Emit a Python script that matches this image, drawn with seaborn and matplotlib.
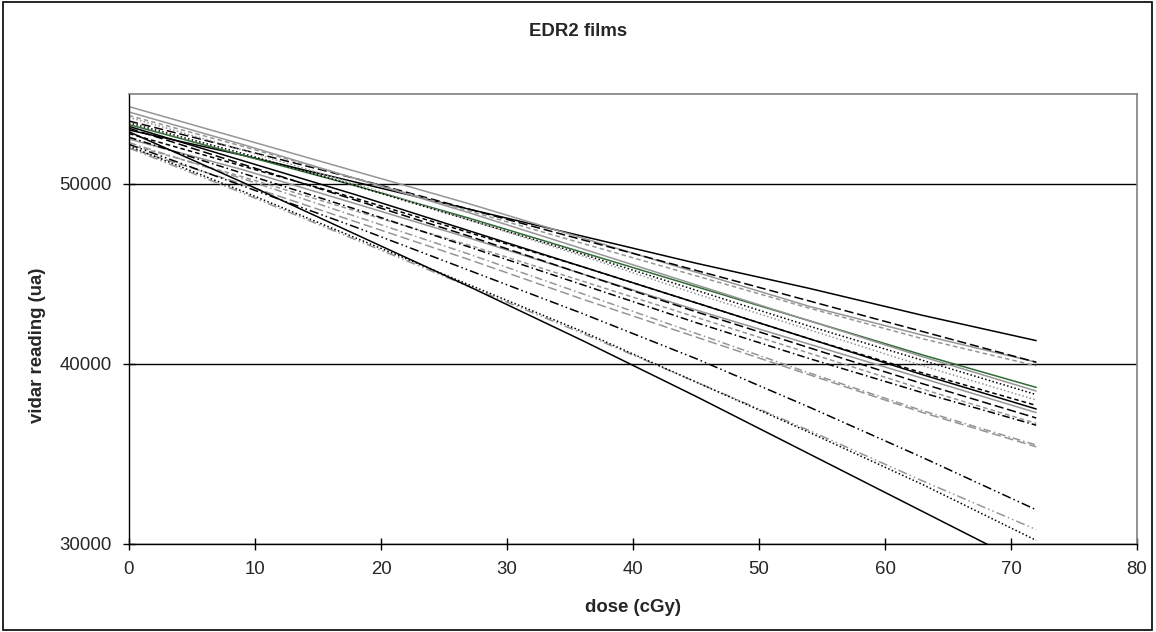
import matplotlib
matplotlib.use("Agg")
import pandas as pd
from matplotlib import pyplot as plt
from matplotlib.patches import Rectangle
import seaborn as sns

# dose points (cGy) at which the curves were read
dose = [0, 9, 18, 27, 36, 45, 54, 63, 72]

# vidar readings per film
film_01 = [53000, 51600, 50100, 48600, 47100, 45600, 44200, 42700, 41300]
film_02 = [54300, 52500, 50700, 48900, 47000, 45100, 43200, 41600, 40100]
film_03 = [53500, 51900, 50300, 48600, 46900, 45200, 43500, 41800, 40100]
film_04 = [53800, 52100, 50300, 48500, 46700, 44900, 43100, 41400, 39900]
film_05 = [53300, 51600, 49900, 48100, 46200, 44300, 42400, 40500, 38700]
film_06 = [54000, 52200, 50300, 48400, 46400, 44400, 42400, 40400, 38500]
film_07 = [53400, 51700, 49900, 48000, 46100, 44100, 42100, 40200, 38300]
film_08 = [53700, 51900, 50000, 48000, 46000, 43900, 41900, 39900, 38000]
film_09 = [52800, 51000, 49200, 47300, 45400, 43400, 41400, 39500, 37700]
film_10 = [53200, 51300, 49400, 47400, 45400, 43400, 41400, 39400, 37500]
film_11 = [52500, 50800, 48900, 47000, 45000, 43000, 41100, 39200, 37300]
film_12 = [53100, 51100, 49100, 47100, 45000, 42900, 40900, 38900, 37000]
film_13 = [52200, 50400, 48500, 46600, 44600, 42600, 40600, 38600, 36700]
film_14 = [52600, 50600, 48600, 46500, 44400, 42300, 40300, 38400, 36600]
film_15 = [52300, 50300, 48200, 46100, 43900, 41700, 39500, 37400, 35500]
film_16 = [52000, 50000, 47900, 45800, 43600, 41500, 39400, 37300, 35400]
film_17 = [52200, 49900, 47600, 45200, 42800, 40300, 37600, 34800, 31900]
film_18 = [52000, 49500, 46900, 44300, 41700, 39000, 36300, 33500, 30800]
film_19 = [52100, 49600, 47000, 44400, 41800, 39000, 36200, 33300, 30200]
film_20 = [52900, 50100, 47200, 44300, 41300, 38200, 35000, 31800, 28600]

films = {
    "film 1": film_01, "film 2": film_02, "film 3": film_03, "film 4": film_04,
    "film 5": film_05, "film 6": film_06, "film 7": film_07, "film 8": film_08,
    "film 9": film_09, "film 10": film_10, "film 11": film_11, "film 12": film_12,
    "film 13": film_13, "film 14": film_14, "film 15": film_15, "film 16": film_16,
    "film 17": film_17, "film 18": film_18, "film 19": film_19, "film 20": film_20,
}

BLACK = "#000000"
GRAY = "#969696"
GREEN = "#2f6b35"

SOLID = ""
DOT = (1, 1.5)
DASH = (3, 2)
LONG_DASH = (6, 2.5)
DASH_DOT = (5, 2, 1, 2)
DASH_DOT_DOT = (6, 2, 1, 2, 1, 2)

line_styles = {
    "film 1": (BLACK, SOLID), "film 2": (GRAY, SOLID), "film 3": (BLACK, LONG_DASH),
    "film 4": (GRAY, DASH), "film 5": (GREEN, SOLID), "film 6": (GRAY, SOLID),
    "film 7": (BLACK, DOT), "film 8": (GRAY, DOT), "film 9": (BLACK, DASH),
    "film 10": (BLACK, SOLID), "film 11": (GRAY, SOLID), "film 12": (BLACK, LONG_DASH),
    "film 13": (GRAY, DASH), "film 14": (BLACK, DASH_DOT), "film 15": (GRAY, DASH_DOT),
    "film 16": (GRAY, LONG_DASH), "film 17": (BLACK, DASH_DOT_DOT),
    "film 18": (GRAY, DASH_DOT_DOT), "film 19": (BLACK, DOT), "film 20": (BLACK, SOLID),
}


def build_frame():
    rows = []
    for name, values in films.items():
        for d, v in zip(dose, values):
            rows.append({"film": name, "dose": d, "reading": v})
    return pd.DataFrame(rows)


def plot_edr2(df):
    sns.set_style("white")
    plt.rcParams["font.family"] = ["Liberation Sans", "DejaVu Sans"]

    W, H = 1156, 632
    fig = plt.figure(figsize=(W / 100, H / 100), dpi=100)
    left, right, top, bottom = 129, 1137, 94, 544
    ax = fig.add_axes([left / W, 1 - bottom / H, (right - left) / W, (bottom - top) / H])

    palette = {k: c for k, (c, _) in line_styles.items()}
    dashes = {k: d for k, (_, d) in line_styles.items()}
    sns.lineplot(data=df, x="dose", y="reading", hue="film", style="film",
                 palette=palette, dashes=dashes, linewidth=1.1, legend=False, ax=ax)

    ax.set_xlim(0, 80)
    ax.set_ylim(30000, 55000)
    ax.set_xticks(range(0, 81, 10))
    ax.set_yticks([30000, 40000, 50000])
    ax.set_xlabel("")
    ax.set_ylabel("")

    ax.yaxis.grid(True, color="black", linewidth=1.0)
    ax.xaxis.grid(False)
    ax.set_axisbelow(True)
    for side in ["top", "right"]:
        ax.spines[side].set_visible(True)
        ax.spines[side].set_color("#808080")
        ax.spines[side].set_linewidth(1.2)
    for side in ["left", "bottom"]:
        ax.spines[side].set_color("black")
        ax.spines[side].set_linewidth(1.0)
    ax.tick_params(axis="both", direction="inout", length=9, width=1.0, color="black",
                   labelsize=13.4, left=True, bottom=True)
    ax.tick_params(axis="y", pad=8)
    ax.tick_params(axis="x", pad=8)

    fig.text(0.5, 1 - 32 / H, "EDR2 films", ha="center", va="center",
             fontsize=13.4, fontweight="bold")
    fig.text(38 / W, 1 - 345 / H, "vidar reading (ua)", ha="center", va="center",
             rotation=90, fontsize=13.4, fontweight="bold")
    fig.text((left + right) / 2 / W, 1 - 608 / H, "dose (cGy)", ha="center", va="center",
             fontsize=13.4, fontweight="bold")

    fig.patches.append(Rectangle((3 / W, 2 / H), 1 - 7 / W, 1 - 4 / H,
                                 transform=fig.transFigure, fill=False,
                                 edgecolor="black", linewidth=1.2))

    fig.savefig("out.png", dpi=100, facecolor="white")
    plt.close(fig)


if __name__ == "__main__":
    plot_edr2(build_frame())
